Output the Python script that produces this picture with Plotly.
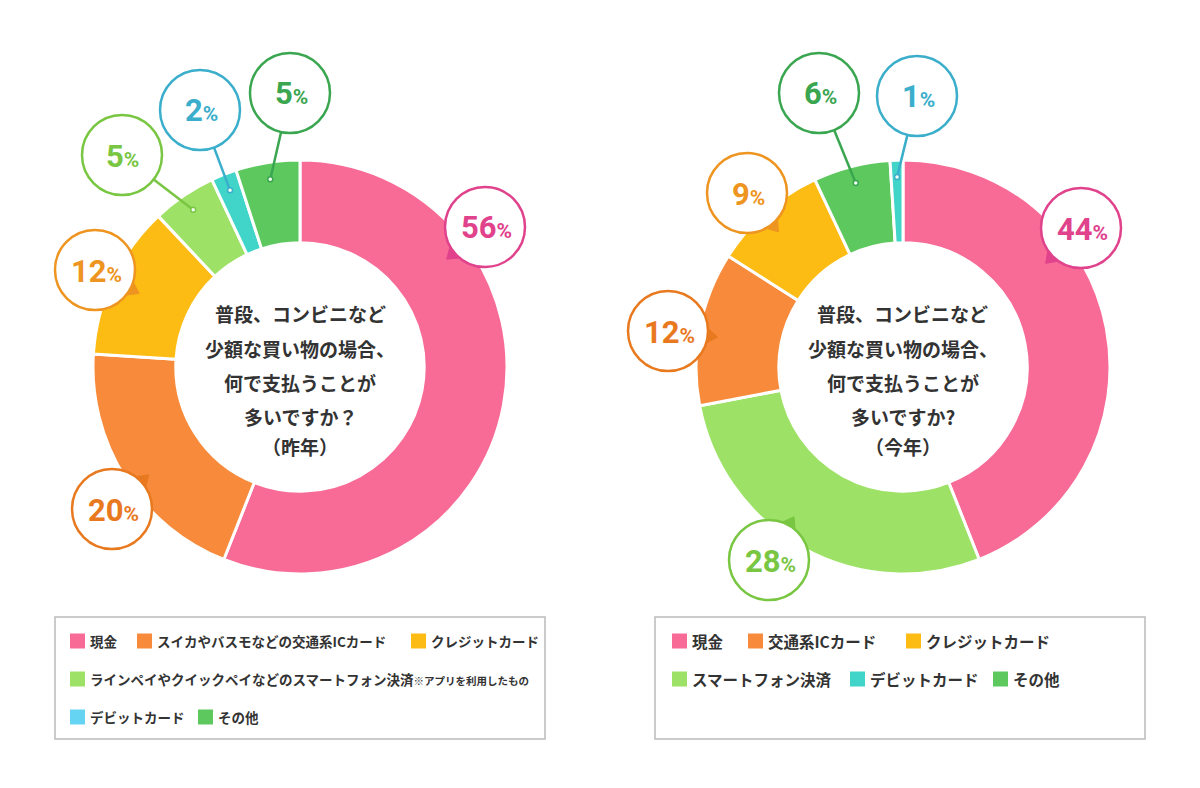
import math
import plotly.graph_objects as go

W, H = 1200, 788

# ---- data -------------------------------------------------------------
# last year (left)
last_keys = ["cash", "ic", "credit", "phone", "debit", "other"]
last_values = [56, 20, 12, 5, 2, 5]
last_legend = ["現金", "スイカやバスモなどの交通系ICカード", "クレジットカード",
               "ラインペイやクイックペイなどのスマートフォン決済", "デビットカード", "その他"]
last_note = "※アプリを利用したもの"

# this year (right) - slice order differs from legend order
this_keys = ["cash", "phone", "ic", "credit", "other", "debit"]
this_values = [44, 28, 12, 9, 6, 1]
this_legend_keys = ["cash", "ic", "credit", "phone", "debit", "other"]
this_legend = ["現金", "交通系ICカード", "クレジットカード", "スマートフォン決済", "デビットカード", "その他"]

center_last = ["普段、コンビニなど", "少額な買い物の場合、", "何で支払うことが", "多いですか？", "（昨年）"]
center_this = ["普段、コンビニなど", "少額な買い物の場合、", "何で支払うことが", "多いですか?", "（今年）"]

# ---- styles -----------------------------------------------------------
slice_col = {"cash": "#F76B96", "ic": "#F78B3B", "credit": "#FDBC14",
             "phone": "#9DE266", "debit": "#40D5C8", "other": "#5CC85E"}
bubble_col = {"cash": "#E0428C", "ic": "#E8791F", "credit": "#EE9420",
              "phone": "#79C642", "debit": "#3AAECB", "other": "#3AA650"}
legend_col_last = dict(slice_col, debit="#64D4F2")

FONT_JP = "Noto Sans CJK JP"
FONT_NUM = "Roboto"
R_OUT = 207
HOLE = 0.6
BR = 40  # bubble radius px

charts = [
    dict(cx=300, cy=367, keys=last_keys, values=last_values, center=center_last,
         bubbles={"cash": ((485, 227), 140), "ic": ((112, 509), -43), "credit": ((95, 270), 28),
                  "phone": ((122, 155), None), "debit": ((200, 110), None), "other": ((290, 93), None)}),
    dict(cx=903, cy=367, keys=this_keys, values=this_values, center=center_this,
         bubbles={"cash": ((1081, 228), 135), "phone": ((769, 560), -60), "ic": ((668, 331), 7),
                  "credit": ((747, 193), 51), "other": ((819, 93), None), "debit": ((917, 96), None)}),
]


def px(x):
    return x / W


def py(y):
    return 1 - y / H


fig = go.Figure()
shapes = []
annotations = []

for ch in charts:
    cx, cy = ch["cx"], ch["cy"]
    fig.add_trace(go.Pie(
        values=ch["values"], labels=ch["keys"], sort=False, direction="clockwise", rotation=0,
        hole=HOLE, textinfo="none", hoverinfo="label+percent", showlegend=False,
        marker=dict(colors=[slice_col[k] for k in ch["keys"]], line=dict(color="white", width=3)),
        domain=dict(x=[px(cx - R_OUT), px(cx + R_OUT)], y=[py(cy + R_OUT), py(cy - R_OUT)]),
    ))

    # center question text
    for line, yy in zip(ch["center"], [314, 348, 382, 416, 446]):
        annotations.append(dict(x=px(cx), y=py(yy), xref="paper", yref="paper", text=f"<b>{line}</b>",
                                xanchor="center", yanchor="middle", showarrow=False,
                                font=dict(family=FONT_JP, size=19, color="#333333")))

    # callout bubbles
    total = sum(ch["values"])
    cum = 0
    for k, v in zip(ch["keys"], ch["values"]):
        mid = (cum + v / 2) / total * 2 * math.pi
        cum += v
        (bx, by), tail = ch["bubbles"][k]
        col = bubble_col[k]
        if tail is None:
            ax = cx + 190 * math.sin(mid)
            ay = cy - 190 * math.cos(mid)
            d = math.hypot(ax - bx, ay - by)
            sx = bx + BR * (ax - bx) / d
            sy = by + BR * (ay - by) / d
            shapes.append(dict(type="line", xref="paper", yref="paper", x0=px(sx), y0=py(sy),
                               x1=px(ax), y1=py(ay), line=dict(color=col, width=2.5)))
            shapes.append(dict(type="circle", xref="paper", yref="paper", x0=px(ax - 2.5), x1=px(ax + 2.5),
                               y0=py(ay + 2.5), y1=py(ay - 2.5), fillcolor="#f4fff4",
                               line=dict(color=col, width=1.5)))
        else:
            a = math.radians(tail)
            da = math.radians(14)
            p1 = (bx + (BR - 2) * math.cos(a - da), by + (BR - 2) * math.sin(a - da))
            p2 = (bx + (BR - 2) * math.cos(a + da), by + (BR - 2) * math.sin(a + da))
            tp = (bx + (BR + 10) * math.cos(a), by + (BR + 10) * math.sin(a))
            path = "M {} {} L {} {} L {} {} Z".format(px(p1[0]), py(p1[1]), px(tp[0]), py(tp[1]),
                                                        px(p2[0]), py(p2[1]))
            shapes.append(dict(type="path", xref="paper", yref="paper", path=path,
                               fillcolor=col, line=dict(color=col, width=1)))
        shapes.append(dict(type="circle", xref="paper", yref="paper", x0=px(bx - BR), x1=px(bx + BR),
                           y0=py(by + BR), y1=py(by - BR), fillcolor="white",
                           line=dict(color=col, width=2.5)))
        annotations.append(dict(x=px(bx + 1), y=py(by + 1), xref="paper", yref="paper", showarrow=False,
                                xanchor="center", yanchor="middle",
                                text=f"<b>{v}</b><span style='font-size:21px'><b>%</b></span>",
                                font=dict(family=FONT_NUM, size=31, color=col)))


# ---- legends ----------------------------------------------------------
def legend_item(x, y, color, text, size):
    shapes.append(dict(type="rect", xref="paper", yref="paper", x0=px(x), x1=px(x + 15),
                       y0=py(y + 7.5), y1=py(y - 7.5), fillcolor=color, line=dict(width=0)))
    annotations.append(dict(x=px(x + 18), y=py(y), xref="paper", yref="paper", xanchor="left",
                            yanchor="middle", showarrow=False, text=text,
                            font=dict(family=FONT_JP, size=size, color="#333333")))


for x0 in (55, 655):
    shapes.append(dict(type="rect", xref="paper", yref="paper", x0=px(x0), x1=px(x0 + 490),
                       y0=py(739), y1=py(617), line=dict(color="#BBBBBB", width=1.5),
                       fillcolor="rgba(0,0,0,0)"))

left_pos = [(70, 641), (137, 641), (411, 641), (70, 679), (70, 717), (198, 717)]
for (x, y), k, name in zip(left_pos, last_keys, last_legend):
    txt = f"<b>{name}</b>"
    if k == "phone":
        txt += f"<span style='font-size:10.5px'><b>{last_note}</b></span>"
    legend_item(x, y, legend_col_last[k], txt, 13.5)

right_pos = [(672, 641), (748, 641), (906, 641), (672, 679), (850, 679), (993, 679)]
for (x, y), k, name in zip(right_pos, this_legend_keys, this_legend):
    legend_item(x, y, slice_col[k], f"<b>{name}</b>", 15.5)

fig.update_layout(
    width=W, height=H, margin=dict(l=0, r=0, t=0, b=0),
    paper_bgcolor="white", plot_bgcolor="white",
    shapes=shapes, annotations=annotations,
)

fig.write_html("out.html", config={"displayModeBar": False},
               post_script="document.body.style.margin='0';")
